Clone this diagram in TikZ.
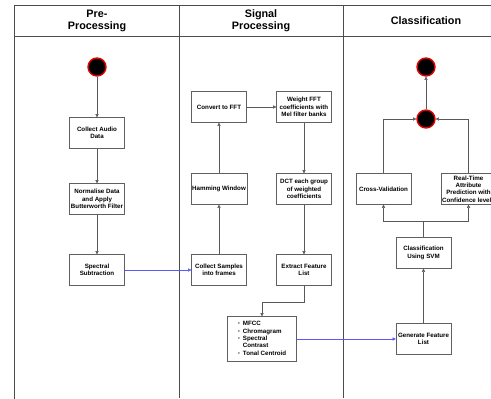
\documentclass[tikz,border=0pt]{standalone}
\usepackage{fontspec}
\setmainfont{Liberation Sans}
\usetikzlibrary{arrows.meta, positioning}

\tikzset{
  stepbox/.style={draw=gray!75!black, fill=white, minimum width=55pt,
    minimum height=31pt, align=center, inner sep=1pt,
    font=\bfseries\fontsize{6.2}{7.4}\selectfont},
  dot/.style={circle, fill=black, draw=red!90!black, line width=1.4pt,
    minimum size=18pt, inner sep=0pt},
  flow/.style={gray!70!black, -{Triangle[length=3.2pt, width=3.2pt]}},
  link/.style={blue!65, -{Triangle[length=3.2pt, width=3.2pt]}},
  lane/.style={gray!60!black, line width=0.8pt},
  lanehead/.style={align=center, font=\bfseries\fontsize{10.8}{12}\selectfont}
}

\begin{document}
\begin{tikzpicture}[x=1pt, y=-1pt, >=Stealth]
  \useasboundingbox (0,0) rectangle (491,399);

  % Swimlanes
  \draw[lane] (491,5) -- (14.5,5) -- (14.5,399);
  \draw[lane] (14.5,36) -- (491,36);
  \draw[lane] (179,5) -- (179,398);
  \draw[lane] (343,5) -- (343,398);
  \node[lanehead] (hpre) at (97,20.5) {Pre-\\Processing};
  \node[lanehead] (hsig) at (261,20.5) {Signal\\Processing};
  \node[lanehead] (hcls) at (426,21) {Classification};

  % Pre-processing
  \node[dot] (start) at (97,67) {};
  \node[stepbox] (collect) at (97,133) {Collect Audio\\Data};
  \node[stepbox] (normal) at (97,199) {Normalise Data\\and Apply\\Butterworth Filter};
  \node[stepbox] (subtract) at (97,270) {Spectral\\Subtraction};

  % Signal processing
  \node[stepbox] (samples) at (219,270) {Collect Samples\\into frames};
  \node[stepbox] (hamming) at (219,189) {Hamming Window};
  \node[stepbox] (fft) at (219,107) {Convert to FFT};
  \node[stepbox] (melbank) at (304,107) {Weight FFT\\coefficients with\\Mel filter banks};
  \node[stepbox] (dct) at (304,189) {DCT each group\\of weighted\\coefficients};
  \node[stepbox] (extract) at (304,270) {Extract Feature\\List};
  \node[stepbox, minimum width=69pt, minimum height=45pt, align=left] (feats) at (262,339)
    {\begin{tabular}{@{}l@{\hspace{3pt}}l@{}}
      {\color{gray}\textbullet} & MFCC\\
      {\color{gray}\textbullet} & Chromagram\\
      {\color{gray}\textbullet} & Spectral\\
                                & Contrast\\
      {\color{gray}\textbullet} & Tonal Centroid
    \end{tabular}};

  % Classification
  \node[stepbox] (generate) at (423.5,339) {Generate Feature\\List};
  \node[stepbox] (svm) at (423.5,253) {Classification\\Using SVM};
  \node[stepbox] (crossval) at (383.5,189) {Cross-Validation};
  \node[stepbox] (realtime) at (468.5,189) {Real-Time\\Attribute\\Prediction with\\Confidence levels};
  \node[dot] (merge) at (426,119) {};
  \node[dot] (finish) at (426,67) {};

  % Connectors
  \draw[flow] (start) -- (collect);
  \draw[flow] (collect) -- (normal);
  \draw[flow] (normal) -- (subtract);
  \draw[link] (subtract) -- (samples);
  \draw[flow] (samples) -- (hamming);
  \draw[flow] (hamming) -- (fft);
  \draw[flow] (fft) -- (melbank);
  \draw[flow] (melbank) -- (dct);
  \draw[flow] (dct) -- (extract);
  \draw[flow] (extract.south) -- ++(0,16) -| (feats.north);
  \draw[link] (feats) -- (generate);
  \draw[flow] (generate) -- (svm);
  \draw[flow] (svm.north) -- ++(0,-16) -| (crossval.south);
  \draw[flow] (svm.north) -- ++(0,-16) -| (realtime.south);
  \draw[flow] (crossval.north) |- (merge.west);
  \draw[flow] (realtime.north) |- (merge.east);
  \draw[flow] (merge) -- (finish);
\end{tikzpicture}
\end{document}
